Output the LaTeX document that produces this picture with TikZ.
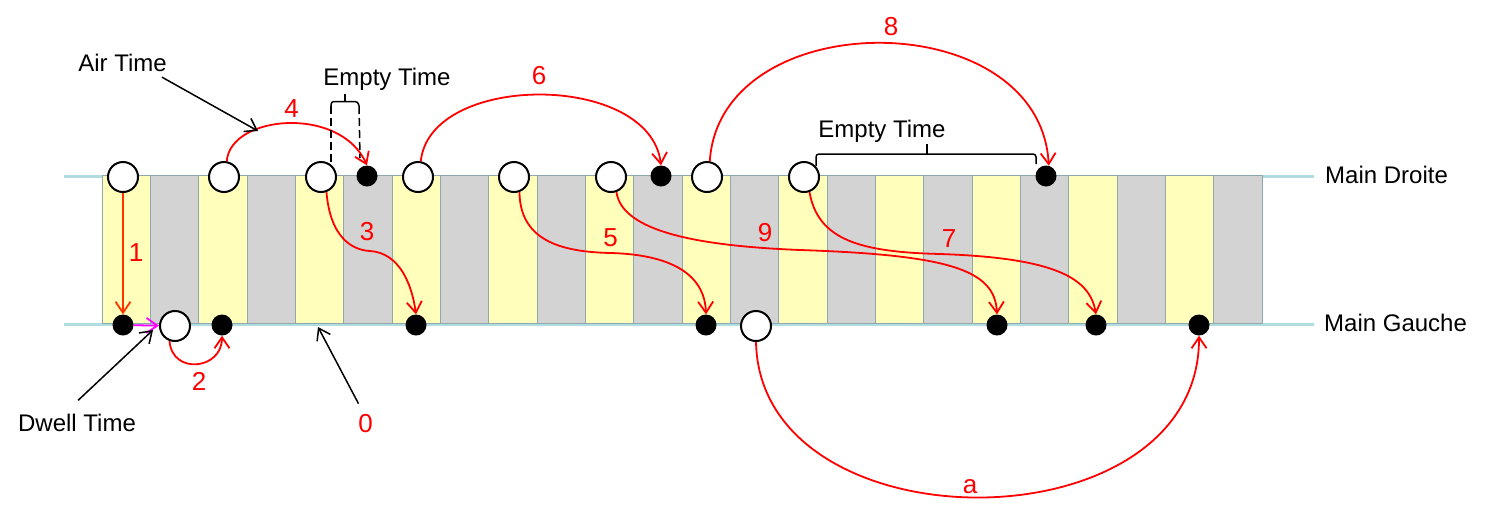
\documentclass[tikz,border=0pt]{standalone}
\usepackage{fontspec}
\setmainfont{Liberation Sans}
\usetikzlibrary{arrows.meta}
\definecolor{stripY}{HTML}{FFFFBB}
\definecolor{stripG}{HTML}{D3D3D3}
\definecolor{stripB}{HTML}{8FA8AE}
\definecolor{rail}{HTML}{B2DDE0}
\definecolor{arrowred}{HTML}{FF0000}
\definecolor{orangered}{HTML}{FF3300}
\definecolor{mag}{HTML}{FF00FF}
\begin{document}
\begin{tikzpicture}[x=1pt,y=-1pt,
  openc/.style={circle,draw=black,line width=2pt,fill=white,minimum size=30pt,inner sep=0pt},
  fullc/.style={circle,fill=black,minimum size=21pt,inner sep=0pt},
  tip/.style={-{Straight Barb[length=11pt,width=15pt]}},
  redarrow/.style={tip,draw=arrowred,line width=1.8pt},
  blackarrow/.style={tip,draw=black,line width=1.5pt},
  bracketline/.style={draw=black,line width=1.5pt},
  lbl/.style={anchor=base,font=\fontsize{24}{28}\selectfont,inner sep=0pt},
  num/.style={anchor=base,font=\fontsize{26}{30}\selectfont,text=arrowred,inner sep=0pt},
]
\useasboundingbox (0,0) rectangle (1488,517);
\fill[white] (0,0) rectangle (1488,517);

% rails
\draw[rail,line width=3pt] (64,176) -- (1314,176);
\draw[rail,line width=3pt] (64,324) -- (1314,324);

% columns
\foreach \i in {0,...,23}{
  \ifodd\i\relax\def\cc{stripG}\else\def\cc{stripY}\fi
  \filldraw[fill=\cc,draw=stripB,line width=0.8pt] ({102+48.333*\i},175) rectangle ({102+48.333*(\i+1)},323);
}

% top open circles
\node[openc] (t1) at (123,177) {};
\node[openc] (t2) at (224,177) {};
\node[openc] (t3) at (321,177) {};
\node[openc] (t4) at (418,177) {};
\node[openc] (t5) at (514,177) {};
\node[openc] (t6) at (611,177) {};
\node[openc] (t7) at (707,177) {};
\node[openc] (t8) at (804,177) {};
% top filled
\node[fullc] (tf1) at (367,176) {};
\node[fullc] (tf2) at (661,176) {};
\node[fullc] (tf3) at (1046,176) {};
% bottom filled
\node[fullc] (b1) at (123,325) {};
\node[fullc] (b3) at (222,325) {};
\node[fullc] (b4) at (416,325) {};
\node[fullc] (b5) at (706,325) {};
\node[fullc] (b6) at (997,325) {};
\node[fullc] (b7) at (1096,325) {};
\node[fullc] (b8) at (1199,325) {};
% bottom open
\node[openc] (bo1) at (175,326) {};
\node[openc] (bo2) at (756,326) {};

% red arrows
\draw[tip,draw=orangered,line width=1.8pt] (t1) -- (b1);
\draw[tip,draw=mag,line width=1.8pt] (b1) -- (bo1);
\draw[redarrow] (bo1.250) .. controls (172,375) and (222,370) .. (b3.south);
\draw[redarrow] (t3.290) .. controls (330,235) and (350,250) .. (370,251) .. controls (400,253) and (412,285) .. (b4.north);
\draw[redarrow] (t2.80) .. controls (230,115) and (340,105) .. (tf1.north);
\draw[redarrow] (t5.290) .. controls (520,240) and (560,252) .. (611,253) .. controls (680,255) and (705,280) .. (b5.north);
\draw[redarrow] (t4.80) .. controls (430,72) and (650,72) .. (tf2.north);
\draw[redarrow] (t8.290) .. controls (818,240) and (860,252) .. (940,254) .. controls (1060,258) and (1090,280) .. (b7.north);
\draw[redarrow] (t7.80) .. controls (720,3) and (1040,3) .. (tf3.75);
\draw[redarrow] (t6.290) .. controls (622,232) and (700,246) .. (800,250) .. controls (950,255) and (995,270) .. (b6.north);
\draw[redarrow] (bo2.south) .. controls (760,550) and (1200,550) .. (b8.south);

% red labels
\node[num] (n1) at (136,261) {1};
\node[num] (n2) at (199,390) {2};
\node[num] (n3) at (367,240) {3};
\node[num] (n4) at (291.5,117) {4};
\node[num] (n5) at (610.5,246) {5};
\node[num] (n6) at (539,84) {6};
\node[num] (n7) at (949,247) {7};
\node[num] (n8) at (891,35) {8};
\node[num] (n9) at (765,241) {9};
\node[num] (na) at (970,493) {a};
\node[num] (n0) at (365.5,432) {0};

% black labels
\node[lbl] (air) at (122.5,71.7) {Air Time};
\node[lbl] (empty1) at (387,85) {Empty Time};
\node[lbl] (empty2) at (882,137) {Empty Time};
\node[lbl] (dwell) at (77,431) {Dwell Time};
\node[lbl,anchor=base west] (droite) at (1325,183) {Main Droite};
\node[lbl,anchor=base west] (gauche) at (1324,331) {Main Gauche};

% black annotation arrows
\coordinate (airEnd) at (258,131);
\coordinate (dwellEnd) at (153,330);
\coordinate (zeroEnd) at (318,327);
\draw[blackarrow] ([xshift=-5pt,yshift=-5pt]air.south east) -- (airEnd);
\draw[blackarrow] ([xshift=1pt,yshift=13pt]dwell.north) -- (dwellEnd);
\draw[blackarrow] ([xshift=-7pt,yshift=10pt]n0.north) -- (zeroEnd);

% empty time bracket 1 (dashed legs)
\draw[bracketline,rounded corners=3pt] (331,106) -- (331,101.5) -- (358,101.5) -- (359,106);
\draw[bracketline] (345,101.5) -- (345,94);
\draw[bracketline,dash pattern=on 8pt off 4pt] (331,106) -- (331,163);
\draw[bracketline,dash pattern=on 8pt off 4pt] (359,106) -- (360,158);

% empty time bracket 2
\draw[bracketline,rounded corners=3pt] (816,166) -- (816,154) -- (1036,154) -- (1036,164);
\draw[bracketline] (927,154) -- (927,144);
\end{tikzpicture}
\end{document}
